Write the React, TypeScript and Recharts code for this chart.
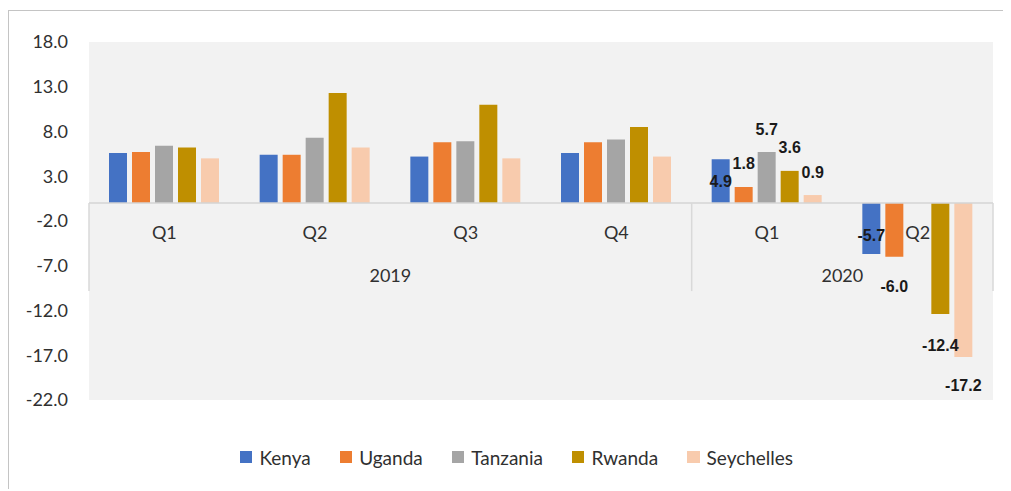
import React from 'react';
import { BarChart, Bar, XAxis, YAxis, CartesianGrid, Legend, ReferenceLine } from 'recharts';

const categories = ['Q1', 'Q2', 'Q3', 'Q4', 'Q1', 'Q2'];
const years = ['2019', '2019', '2019', '2019', '2020', '2020'];
const kenya = [5.6, 5.4, 5.2, 5.6, 4.9, -5.7];
const uganda = [5.7, 5.4, 6.8, 6.8, 1.8, -6.0];
const tanzania: (number | null)[] = [6.4, 7.3, 6.9, 7.1, 5.7, null];
const rwanda = [6.2, 12.3, 11.0, 8.5, 3.6, -12.4];
const seychelles = [5.0, 6.2, 5.0, 5.2, 0.9, -17.2];
const yTicks = [18, 13, 8, 3, -2, -7, -12, -17, -22];
const labeledYear = '2020';

const data = categories.map((c, i) => ({
  key: `${years[i]} ${c}`,
  Kenya: kenya[i],
  Uganda: uganda[i],
  Tanzania: tanzania[i],
  Rwanda: rwanda[i],
  Seychelles: seychelles[i],
}));

const series = [
  { key: 'Kenya', color: '#4472C4', pos: 22, neg: -19 },
  { key: 'Uganda', color: '#ED7D31', pos: -23, neg: 30 },
  { key: 'Tanzania', color: '#A5A5A5', pos: -23, neg: 30 },
  { key: 'Rwanda', color: '#BF8F00', pos: -23, neg: 31 },
  { key: 'Seychelles', color: '#F8CBAD', pos: -23, neg: 28 },
];

const TEXT = '#303030';

const makeLabel = (pos: number, neg: number) => (props: any) => {
  const { x, y, width, height, value, index } = props;
  if (value == null || years[index] !== labeledYear) return null;
  const v = Number(value);
  const nx = Number(x), ny = Number(y), nw = Number(width), nh = Number(height);
  const end = v >= 0 ? Math.min(ny, ny + nh) : Math.max(ny, ny + nh);
  const cy = end + (v >= 0 ? pos : neg);
  return (
    <text
      x={nx + nw / 2}
      y={cy}
      textAnchor="middle"
      dominantBaseline="central"
      fontFamily="'Liberation Sans', Arial, sans-serif"
      fontWeight="bold"
      fontSize={16}
      fill="#1a1a1a"
    >
      {v.toFixed(1)}
    </text>
  );
};

const CategoryAxis = (props: any) => {
  const vb = props.viewBox || {};
  const x = Number(vb.x), y = Number(vb.y), width = Number(vb.width);
  const n = categories.length;
  const step = width / n;
  const lineLen = 88;
  const bounds: number[] = [0];
  for (let i = 1; i < n; i++) if (years[i] !== years[i - 1]) bounds.push(i);
  bounds.push(n);
  const groups: { year: string; start: number; end: number }[] = [];
  for (let b = 0; b < bounds.length - 1; b++) {
    groups.push({ year: years[bounds[b]], start: bounds[b], end: bounds[b + 1] });
  }
  return (
    <g>
      {bounds.map((b) => (
        <line key={'l' + b} x1={x + b * step} x2={x + b * step} y1={y} y2={y + lineLen} stroke="#d9d9d9" strokeWidth={1.5} />
      ))}
      {categories.map((c, i) => (
        <text key={'c' + i} x={x + (i + 0.5) * step} y={y + 29} textAnchor="middle" dominantBaseline="central" fontFamily="Lato, sans-serif" fontSize={18} fill={TEXT}>
          {c}
        </text>
      ))}
      {groups.map((g) => (
        <text key={'y' + g.year} x={x + ((g.start + g.end) / 2) * step} y={y + 72} textAnchor="middle" dominantBaseline="central" fontFamily="Lato, sans-serif" fontSize={18} fill={TEXT}>
          {g.year}
        </text>
      ))}
    </g>
  );
};

const renderLegend = () => (
  <div style={{ height: 72, boxSizing: 'border-box', paddingTop: 42, paddingLeft: 32, display: 'flex', justifyContent: 'center', alignItems: 'center', fontFamily: 'Lato, sans-serif', fontSize: 19, color: TEXT }}>
    {series.map((s) => (
      <div key={s.key} style={{ display: 'flex', alignItems: 'center', margin: '0 14.5px', height: 30 }}>
        <span style={{ display: 'inline-block', width: 12.5, height: 12.5, background: s.color, marginRight: 7 }} />
        <span>{s.key}</span>
      </div>
    ))}
  </div>
);

export default function App() {
  return (
    <div style={{ position: 'relative', top: 2, width: 1003, height: 481 }}>
      <BarChart
        width={1003}
        height={481}
        data={data}
        margin={{ top: 32, right: 18, left: 0, bottom: 19 }}
        barCategoryGap={20}
        barGap={5}
      >
        <CartesianGrid horizontal={false} vertical={false} fill="#f2f2f2" stroke="none" />
        <XAxis dataKey="key" hide />
        <YAxis
          domain={[-22, 18]}
          ticks={yTicks}
          interval={0}
          allowDataOverflow
          tickFormatter={(v: number) => v.toFixed(1)}
          axisLine={false}
          tickLine={false}
          tickSize={0}
          tickMargin={21}
          width={81}
          tick={{ fontFamily: 'Lato, sans-serif', fontSize: 18, fill: TEXT }}
        />
        {series.map((s) => (
          <Bar key={s.key} dataKey={s.key} name={s.key} fill={s.color} isAnimationActive={false} label={makeLabel(s.pos, s.neg)} />
        ))}
        <ReferenceLine y={0} stroke="#d4d4d4" strokeWidth={1.5} label={<CategoryAxis />} ifOverflow="extendDomain" />
        <Legend verticalAlign="bottom" content={renderLegend} />
      </BarChart>
      <div style={{ position: 'absolute', left: 0, top: 0, width: '100%', height: '100%', borderTop: '1px solid #c4c4c4', borderLeft: '1px solid #c4c4c4', boxSizing: 'border-box', pointerEvents: 'none' }} />
    </div>
  );
}
